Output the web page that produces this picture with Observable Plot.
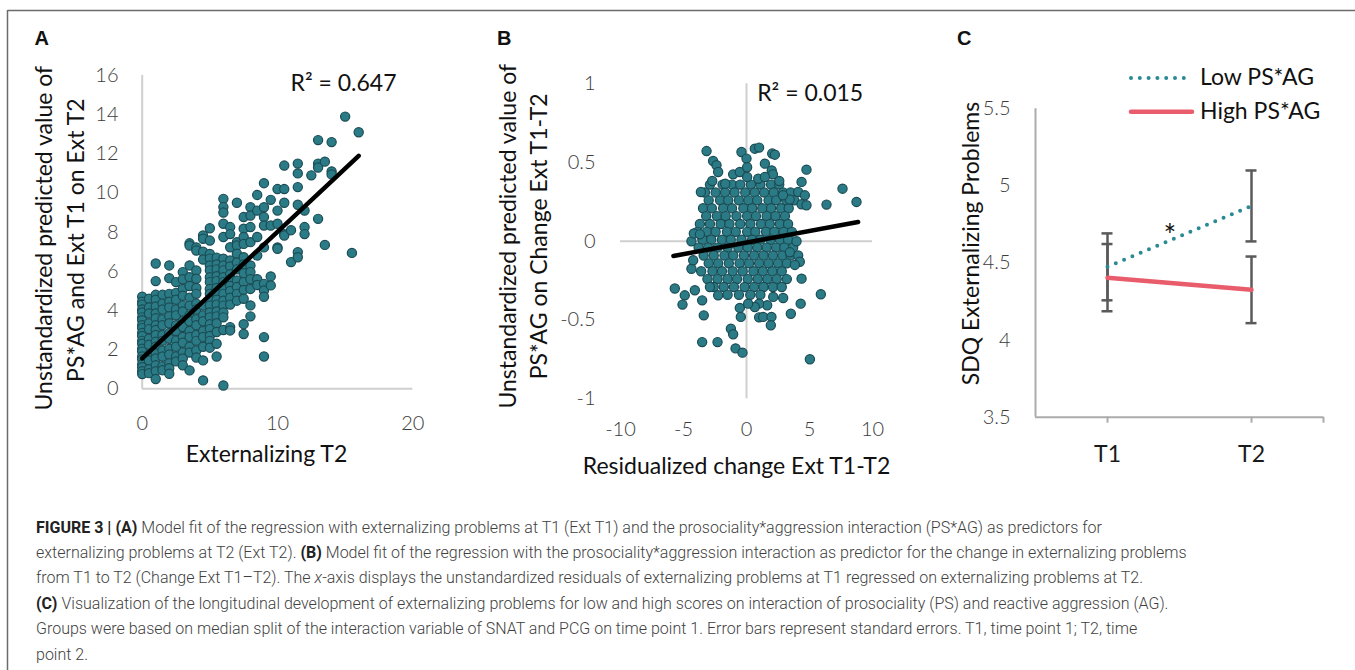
<!DOCTYPE html>
<html>
<head>
<meta charset="utf-8">
<script src="https://cdn.jsdelivr.net/npm/d3@7"></script>
<script src="https://cdn.jsdelivr.net/npm/@observablehq/plot@0.6"></script>
<style>
html,body{margin:0;padding:0;background:#fff;}
body{width:1355px;height:670px;position:relative;overflow:hidden;}
.panel{position:absolute;top:0;}
#overlay{position:absolute;left:0;top:0;pointer-events:none;}
#caption{position:absolute;left:36px;top:514.5px;font-family:Roboto,"Liberation Sans",sans-serif;font-weight:300;font-size:16.5px;line-height:25.4px;color:#3f3f3f;white-space:nowrap;transform-origin:0 0;}
#caption b{font-weight:700;color:#222;}
#caption span{display:inline-block;}
</style>
</head>
<body>
<div id="pA" class="panel" style="left:0;width:460px;height:480px"></div>
<div id="pB" class="panel" style="left:460px;width:460px;height:480px"></div>
<div id="pC" class="panel" style="left:920px;width:435px;height:480px"></div>
<svg id="overlay" width="1355" height="670">
  <line x1="7.5" y1="10.5" x2="1355" y2="10.5" stroke="#6b6b6b" stroke-width="1.5"/>
  <line x1="7.5" y1="10" x2="7.5" y2="670" stroke="#6b6b6b" stroke-width="1.5"/>
  <g font-family="Liberation Sans, Arial, sans-serif" font-weight="bold" font-size="20" fill="#111">
    <text x="34.5" y="45">A</text>
    <text x="497" y="45">B</text>
    <text x="957" y="45">C</text>
  </g>
  <g id="legend" font-family="Lato, sans-serif" font-size="23" fill="#111"></g>
</svg>
<div id="caption">
  <div><span id="cl1"><b>FIGURE 3 | (A)</b> Model fit of the regression with externalizing problems at T1 (Ext T1) and the prosociality*aggression interaction (PS*AG) as predictors for</span></div>
  <div><span id="cl2">externalizing problems at T2 (Ext T2). <b>(B)</b> Model fit of the regression with the prosociality*aggression interaction as predictor for the change in externalizing problems</span></div>
  <div><span>from T1 to T2 (Change Ext T1–T2). The <i>x</i>-axis displays the unstandardized residuals of externalizing problems at T1 regressed on externalizing problems at T2.</span></div>
  <div><span><b>(C)</b> Visualization of the longitudinal development of externalizing problems for low and high scores on interaction of prosociality (PS) and reactive aggression (AG).</span></div>
  <div><span>Groups were based on median split of the interaction variable of SNAT and PCG on time point 1. Error bars represent standard errors. T1, time point 1; T2, time</span></div>
  <div><span>point 2.</span></div>
</div>
<script>
// ---------- Panel A data ----------
const extT2 = [0,0.5,1,1.5,2,2.5,3,3.5,4,4.5,5,5.5,6,6.5,7,7.5,8,8.5,9,9.5,10,10.5,11,11.5,12,12.5,13,13.5,14,15,15.5,16];
const predA = [
  [4.7,4.45,4.3,4.05,3.9,3.65,3.5,3.25,3.1,2.85,2.7,2.45,2.3,2.05,1.9,1.65,1.5,1.25,1.1,0.9,0.75],
  [4.6,4.15,3.85,3.35,3.05,2.55,2.25,1.75,1.45,1.0,0.8],
  [6.4,5.5,4.8,4.55,4.2,3.85,3.6,3.25,3.0,2.75,2.4,2.15,1.8,1.55,1.2,0.9,0.5],
  [4.8,4.35,4.05,3.55,3.25,2.75,2.45,1.95,1.65,1.15,0.95],
  [6.3,5.65,4.85,4.45,4.15,3.7,3.35,2.85,2.55,2.05,1.75,1.3,1.05,0.77],
  [5.45,4.9,4.55,4.05,3.75,3.25,2.95,2.45,2.15,1.65,1.4],
  [5.96,5.6,5.1,4.75,4.25,3.95,3.45,3.15,2.65,2.35,1.85,1.55,1.2],
  [7.43,7.32,6.3,5.7,5.25,4.65,4.25,3.75,3.45,2.95,2.65,2.15,1.85,0.94],
  [7.22,7.06,6.04,5.62,5.15,4.85,4.35,4.05,3.55,3.25,2.75,2.45,1.95,1.6],
  [7.83,7.66,7.0,6.6,4.25,3.75,3.45,2.95,2.65,2.15,1.45,0.43],
  [8.2,7.57,6.89,6.65,6.3,6.05,5.7,5.45,5.1,4.85,4.5,4.25,3.9,3.65,3.3,3.05,2.7,2.45,2.1],
  [6.7,6.35,6.1,5.75,5.5,5.15,4.9,4.55,4.3,3.95,3.7,3.35,2.9,2.3,1.65],
  [9.7,9.28,9.0,8.43,7.75,6.64,6.3,6.05,5.7,5.45,5.1,4.85,4.5,4.25,3.9,3.65,3.0,0.17],
  [8.26,7.9,7.23,6.55,6.25,5.85,5.6,5.25,5.0,4.65,4.3,3.15,2.98],
  [9.5,7.49,7.32,6.9,6.45,6.1,5.53,5.2,4.85,4.5],
  [8.77,8.18,7.75,7.4,6.72,6.35,5.9,5.45,5.05,4.6,3.3,2.8],
  [9.27,8.85,8.26,7.49,6.3,5.96,5.6,5.1,4.26,3.7],
  [9.9,9.1,7.75,6.81,5.6,5.3],
  [10.5,9.27,8.77,8.34,7.22,5.36,5.02,4.7,2.64,1.65],
  [9.65,8.34,5.74,5.28],
  [10.2,9.1,8.43,7.22,7.15],
  [11.4,10.2,9.5,7.9,7.83],
  [8.1,6.47],
  [11.5,11.0,10.3,9.4,6.98,6.72],
  [9.1,8.26,7.9],
  [10.9],
  [12.7,11.5,11.3,8.68],
  [11.6,7.35],
  [12.6,11.1,10.95],
  [13.9],
  [6.94],
  [13.1]
];
const fitAx = [0, 16];
const fitAy = [1.55, 11.9];
const r2A = "R² = 0.647";
const xTicksA = [0, 10, 20];
const yTicksA = [0, 2, 4, 6, 8, 10, 12, 14, 16];

// ---------- Panel B data ----------
const bRowY = [0.36,0.31,0.26,0.21,0.16,0.11,0.06,0.01,-0.04,-0.09,-0.14,-0.19,-0.24,-0.29,-0.34];
const bRowX = [
  [-2.9,-1.9,-1.15,-0.5,0.35,1.1,1.95,2.6],
  [-3.3,-2.45,-1.7,-0.95,-0.1,0.65,1.4,2.15,2.9,3.5],
  [-3.0,-2.1,-1.45,-0.6,0.15,0.85,1.75,2.35,3.15,3.8],
  [-3.45,-2.75,-1.85,-1.15,-0.25,0.45,1.25,1.95,2.75,3.35],
  [-3.2,-2.35,-1.65,-0.8,0.05,0.75,1.6,2.3,3.05],
  [-3.7,-2.9,-2.05,-1.35,-0.5,0.3,1.15,1.85,2.65,3.3],
  [-3.9,-3.15,-2.45,-1.55,-0.85,0.05,0.7,1.55,2.2,2.95,3.6],
  [-3.5,-2.8,-1.95,-1.25,-0.4,0.45,1.1,1.9,2.65,3.3],
  [-3.8,-3.05,-2.3,-1.5,-0.65,0.1,0.85,1.6,2.35,3.0,3.7],
  [-3.4,-2.6,-1.75,-1.05,-0.2,0.6,1.35,2.1,2.85,3.5],
  [-3.0,-2.25,-1.4,-0.55,0.2,1.0,1.75,2.5,3.2],
  [-3.6,-2.7,-1.95,-1.1,-0.3,0.55,1.3,2.05,2.8],
  [-3.1,-2.3,-1.5,-0.75,0.1,0.9,1.65,2.4,3.2],
  [-2.6,-1.8,-1.0,-0.15,0.6,1.35,2.1,2.8],
  [-1.5,-0.6,0.3,1.1]
];
const bOutX = [-3.17,-2.65,-2.38,-2.25,-2.72,-3.62,-1.06,-0.4,0.0,0.66,1.0,2.04,2.25,1.46,2.0,2.1,2.6,-0.53,0.05,0.05,0.93,1.46,-1.69,4.76,4.37,4.1,4.63,4.37,4.76,6.35,7.62,8.73,3.43,2.9,
  -5.69,-4.9,-5.08,-4.1,-3.52,-3.39,-3.52,-2.3,-1.24,-1.06,-0.87,-0.32,-0.45,-0.53,1.0,1.32,1.98,1.93,3.52,4.3,5.9,5.03,4.37,2.91,2.12,1.64,1.0,0.66,0.13,-2.25,-2.9,-4.37,-4.23,-4.37,-4.18,-3.7,3.97,4.1,4.23,3.84,3.44];
const bOutY = [0.573,0.51,0.483,0.44,0.383,0.313,0.425,0.567,0.525,0.588,0.595,0.557,0.55,0.493,0.45,0.425,0.383,0.44,0.47,0.408,0.397,0.408,0.366,0.455,0.377,0.313,0.292,0.235,0.229,0.233,0.334,0.25,0.265,0.292,
  -0.30,-0.343,-0.402,-0.311,-0.375,-0.47,-0.64,-0.64,-0.555,-0.59,-0.68,-0.707,-0.48,-0.423,-0.483,-0.48,-0.48,-0.533,-0.46,-0.396,-0.336,-0.749,-0.237,-0.36,-0.353,-0.406,-0.396,-0.417,-0.396,-0.343,-0.29,-0.174,-0.12,0.0,0.05,0.044,0.0,-0.09,-0.13,-0.15,-0.07];
const fitBx = [-5.8, 8.86];
const fitBy = [-0.093, 0.122];
const r2B = "R² = 0.015";
const xTicksB = [-10, -5, 0, 5, 10];
const yTicksB = [-1, -0.5, 0, 0.5, 1];

// ---------- Panel C data ----------
const times = ["T1", "T2"];
const timeIdx = [1, 2];
const groups = ["Low PS*AG", "High PS*AG"];
const lowMean = [4.475, 4.87];
const lowSE = [0.217, 0.23];
const highMean = [4.405, 4.326];
const highSE = [0.218, 0.216];
const yTicksC = [3.5, 4, 4.5, 5, 5.5];
const starX = [1.433];
const starY = [4.73];

// ---------- styles ----------
const teal = "#2a7b86", tealStroke = "#1b4c55";
const lineTeal = "#2a8a94", pink = "#e95c6c";
const axisGray = "#cfcfcf";
const tickCol = "#3c3c3c", titleCol = "#111";
const FONT = "Lato, sans-serif";
const fmt = d => String(d);

function title(text, o) {
  return Plot.text([text], Object.assign({text: d => d, fontFamily: FONT, fontSize: 23, fill: titleCol}, o));
}
function vtitle(text, o) {
  return title(text, Object.assign({frameAnchor: "left", rotate: -90, textAnchor: "middle", lineAnchor: "bottom"}, o));
}

// ---------- Panel A ----------
const dataA = extT2.flatMap((x, i) => predA[i].map(y => ({x, y})));
const fitA = fitAx.map((x, i) => ({x, y: fitAy[i]}));
const plotA = Plot.plot({
  width: 460, height: 480,
  marginTop: 75, marginRight: 47.7, marginBottom: 91.7, marginLeft: 141.7,
  style: {fontFamily: FONT, background: "transparent", overflow: "visible"},
  x: {domain: [0, 20]},
  y: {domain: [0, 16]},
  marks: [
    Plot.ruleX([0], {stroke: axisGray, strokeWidth: 2}),
    Plot.ruleY([0], {stroke: axisGray, strokeWidth: 2}),
    Plot.axisX({ticks: xTicksA, tickSize: 0, tickPadding: 26.7, fontSize: 20, fontWeight: 300, fill: tickCol, tickFormat: fmt, label: null}),
    Plot.axisY({ticks: yTicksA, tickSize: 0, tickPadding: 23.7, fontSize: 20, fontWeight: 300, fill: tickCol, tickFormat: fmt, label: null}),
    Plot.dot(dataA, {x: "x", y: "y", r: 4.6, fill: teal, stroke: tealStroke, strokeWidth: 1.2}),
    Plot.line(fitA, {x: "x", y: "y", stroke: "#000", strokeWidth: 4.5}),
    title(r2A, {frameAnchor: "top-left", textAnchor: "start", lineAnchor: "bottom", dx: 148.3, dy: 15}),
    title("Externalizing T2", {frameAnchor: "bottom", lineAnchor: "bottom", dx: -11, dy: 73.4}),
    vtitle("Unstandardized predicted value of", {dx: -90, dy: 6}),
    vtitle("PS*AG and Ext T1 on Ext T2", {dx: -58.4, dy: 8})
  ]
});
document.getElementById("pA").appendChild(plotA);

// ---------- Panel B ----------
const dataB = bRowY.flatMap((y, i) => bRowX[i].map(x => ({x, y})))
  .concat(bOutX.map((x, i) => ({x, y: bOutY[i]})));
const fitB = fitBx.map((x, i) => ({x, y: fitBy[i]}));
const plotB = Plot.plot({
  width: 460, height: 480,
  marginTop: 83.3, marginRight: 48, marginBottom: 81.7, marginLeft: 160,
  style: {fontFamily: FONT, background: "transparent", overflow: "visible"},
  x: {domain: [-10, 10]},
  y: {domain: [-1, 1]},
  marks: [
    Plot.ruleX([0], {stroke: axisGray, strokeWidth: 2}),
    Plot.ruleY([0], {stroke: axisGray, strokeWidth: 2}),
    Plot.axisX({ticks: xTicksB, tickSize: 0, tickPadding: 23.4, fontSize: 20, fontWeight: 300, fill: tickCol, tickFormat: fmt, label: null}),
    Plot.axisY({ticks: yTicksB, tickSize: 0, tickPadding: 25, fontSize: 20, fontWeight: 300, fill: tickCol, tickFormat: fmt, label: null}),
    Plot.dot(dataB, {x: "x", y: "y", r: 4.6, fill: teal, stroke: tealStroke, strokeWidth: 1.2}),
    Plot.line(fitB, {x: "x", y: "y", stroke: "#000", strokeWidth: 4.5}),
    title(r2B, {frameAnchor: "top-left", textAnchor: "start", lineAnchor: "bottom", dx: 136.7, dy: 16.7}),
    title("Residualized change Ext T1-T2", {frameAnchor: "bottom", lineAnchor: "bottom", dx: -10, dy: 75}),
    vtitle("Unstandardized predicted value of", {dx: -105, dy: -5}),
    vtitle("PS*AG on Change Ext T1-T2", {dx: -73.3, dy: -5})
  ]
});
document.getElementById("pB").appendChild(plotB);

// ---------- Panel C ----------
const lowPts = timeIdx.map((t, i) => ({t, v: lowMean[i], lo: lowMean[i] - lowSE[i], hi: lowMean[i] + lowSE[i]}));
const highPts = timeIdx.map((t, i) => ({t, v: highMean[i], lo: highMean[i] - highSE[i], hi: highMean[i] + highSE[i]}));
const errs = lowPts.concat(highPts);
const errCol = "#5a5a5a";
const plotC = Plot.plot({
  width: 435, height: 480,
  marginTop: 108.3, marginRight: 32, marginBottom: 63.3, marginLeft: 115,
  style: {fontFamily: FONT, background: "transparent", overflow: "visible"},
  x: {domain: [0.5, 2.5]},
  y: {domain: [3.5, 5.5]},
  marks: [
    Plot.ruleX([0.5], {stroke: "#ababab", strokeWidth: 2}),
    Plot.ruleY([3.5], {stroke: "#ababab", strokeWidth: 2}),
    Plot.axisX({ticks: [1, 2, 2.5], tickSize: 6, tickPadding: 0, stroke: "#ababab", strokeWidth: 2, tickFormat: () => "", label: null}),
    Plot.axisX({ticks: timeIdx, tickSize: 0, tickPadding: 28.3, fontSize: 23, fill: "#1a1a1a", tickFormat: d => times[d - 1], label: null}),
    Plot.axisY({ticks: yTicksC, tickSize: 0, tickPadding: 25, fontSize: 20, fontWeight: 300, fill: tickCol, tickFormat: fmt, label: null}),
    Plot.ruleX(errs, {x: "t", y1: "lo", y2: "hi", stroke: errCol, strokeWidth: 2.5}),
    Plot.ruleY(errs, {y: "lo", x1: "t", x2: "t", insetLeft: -5.5, insetRight: -5.5, stroke: errCol, strokeWidth: 2.5}),
    Plot.ruleY(errs, {y: "hi", x1: "t", x2: "t", insetLeft: -5.5, insetRight: -5.5, stroke: errCol, strokeWidth: 2.5}),
    Plot.line(highPts, {x: "t", y: "v", stroke: pink, strokeWidth: 4.5}),
    Plot.line(lowPts, {x: "t", y: "v", stroke: lineTeal, strokeWidth: 4, strokeDasharray: "0 9", strokeLinecap: "round"}),
    Plot.text(starX.map((x, i) => ({x, y: starY[i]})), {x: "x", y: "y", text: () => "*", fontFamily: FONT, fontSize: 30, fill: "#111", dy: 9}),
    vtitle("SDQ Externalizing Problems", {dx: -56.7, dy: -19.5})
  ]
});
document.getElementById("pC").appendChild(plotC);

// ---------- Legend (panel C) ----------
const lg = document.getElementById("legend");
const ns = "http://www.w3.org/2000/svg";
const legendStyles = [
  {stroke: lineTeal, "stroke-width": 4, "stroke-dasharray": "0 8.8", "stroke-linecap": "round"},
  {stroke: pink, "stroke-width": 4.5, "stroke-linecap": "round"}
];
const legendY = [78, 111.7];
groups.forEach((g, i) => {
  const ln = document.createElementNS(ns, "line");
  ln.setAttribute("x1", 1131); ln.setAttribute("x2", 1192);
  ln.setAttribute("y1", legendY[i]); ln.setAttribute("y2", legendY[i]);
  for (const k in legendStyles[i]) ln.setAttribute(k, legendStyles[i][k]);
  lg.appendChild(ln);
  const tx = document.createElementNS(ns, "text");
  tx.setAttribute("x", 1200); tx.setAttribute("y", legendY[i] + 7.3);
  tx.textContent = g;
  lg.appendChild(tx);
});

// ---------- Caption width fit ----------
function fitCaption() {
  const cap = document.getElementById("caption");
  cap.style.transform = "none";
  const w = document.getElementById("cl2").getBoundingClientRect().width;
  if (w > 0) cap.style.transform = `scaleX(${1150.7 / w})`;
}
fitCaption();
if (document.fonts && document.fonts.ready) document.fonts.ready.then(fitCaption);
</script>
</body>
</html>
